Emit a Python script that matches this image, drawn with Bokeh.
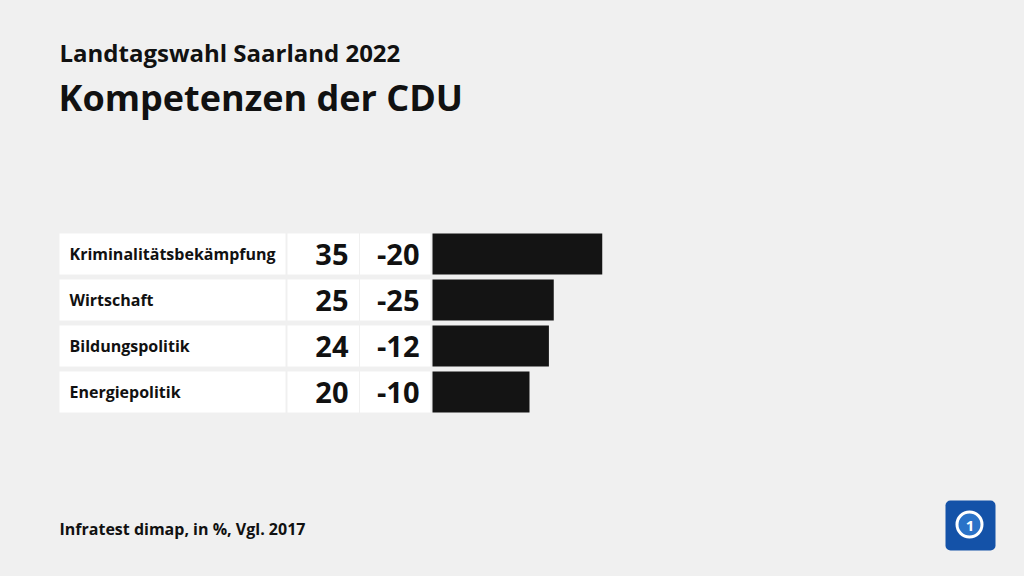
from bokeh.plotting import figure
from bokeh.models import Range1d, ColumnDataSource, BoxAnnotation
from bokeh.core.properties import value
from bokeh.embed import file_html
from bokeh.resources import INLINE

# ---- data ----
categories = ["Kriminalitätsbekämpfung", "Wirtschaft", "Bildungspolitik", "Energiepolitik"]
values = [35, 25, 24, 20]
changes = [-20, -25, -12, -10]
subtitle = "Landtagswahl Saarland 2022"
title = "Kompetenzen der CDU"
footer = "Infratest dimap, in %, Vgl. 2017"

# ---- layout helpers (image pixel -> data units) ----
BAR_ORIGIN_PX = 432.0
PX_PER_UNIT = 4.85
def X(px):
    return (px - BAR_ORIGIN_PX) / PX_PER_UNIT

W, H = 1008, 560
FONT = "Open Sans"
BG = "#f0f0f0"
INK = "#111111"

p = figure(width=W, height=H, output_backend="svg", toolbar_location=None,
           x_range=Range1d(X(0), X(W)), y_range=Range1d(H, 0),
           min_border=0, min_border_left=0, min_border_right=0,
           min_border_top=0, min_border_bottom=0)
p.axis.visible = False
p.grid.visible = False
p.outline_line_color = None
p.background_fill_color = BG
p.border_fill_color = BG

ROW0, PITCH, ROWH = 253.5, 46.0, 41.0
ys = [ROW0 + PITCH * i for i in range(len(categories))]

src = ColumnDataSource(dict(
    cat=categories, val=values, chg=[f"{c}" for c in changes], y=ys,
    valtxt=[str(v) for v in values],
    top=[y - ROWH / 2 for y in ys], bottom=[y + ROWH / 2 for y in ys],
))

# label boxes and number boxes
p.quad(left=X(59), right=X(285), top="top", bottom="bottom", source=src,
       fill_color="white", line_color=None)
p.quad(left=X(287), right=X(358.5), top="top", bottom="bottom", source=src,
       fill_color="white", line_color=None)
p.quad(left=X(359.5), right=X(430), top="top", bottom="bottom", source=src,
       fill_color="white", line_color=None)

# bars
p.hbar(y="y", left=0, right="val", height=ROWH, source=src,
       fill_color="#141414", line_color=None)

# labels
p.text(x=X(69), y="y", text="cat", source=src, text_font=value(FONT),
       text_font_style="bold", text_font_size="16px", text_baseline="middle",
       text_align="left", text_color=INK)
p.text(x=X(348), y="y", text="valtxt", source=src, text_font=value(FONT),
       text_font_style="bold", text_font_size="29px", text_baseline="middle",
       text_align="right", text_color=INK)
p.text(x=X(419), y="y", text="chg", source=src, text_font=value(FONT),
       text_font_style="bold", text_font_size="29px", text_baseline="middle",
       text_align="right", text_color=INK)

# titles
p.text(x=[X(59)], y=[52], text=[subtitle], text_font=value(FONT),
       text_font_style="bold", text_font_size="24px", text_baseline="middle",
       text_color=INK)
p.text(x=[X(58)], y=[97], text=[title], text_font=value(FONT),
       text_font_style="bold", text_font_size="36px", text_baseline="middle",
       text_color=INK)
p.text(x=[X(59)], y=[528], text=[footer], text_font=value(FONT),
       text_font_style="bold", text_font_size="16px", text_baseline="middle",
       text_color=INK)

# logo
p.add_layout(BoxAnnotation(left=X(945), right=X(995), top=500, bottom=550,
                           fill_color="#1452a8", fill_alpha=1.0, line_color=None,
                           border_radius=5, level="underlay"))
p.scatter(x=[X(969)], y=[524], size=25, marker="circle", fill_color="#2a72c8",
          line_color="white", line_width=3)
p.text(x=[X(969.5)], y=[525], text=["1"], text_font=value(FONT),
       text_font_style="bold", text_font_size="15px", text_align="center",
       text_baseline="middle", text_color="white")

html = file_html(p, INLINE)
html = html.replace("</head>", "<style>body{background:#f0f0f0}</style></head>", 1)
open("out.html", "w").write(html)
